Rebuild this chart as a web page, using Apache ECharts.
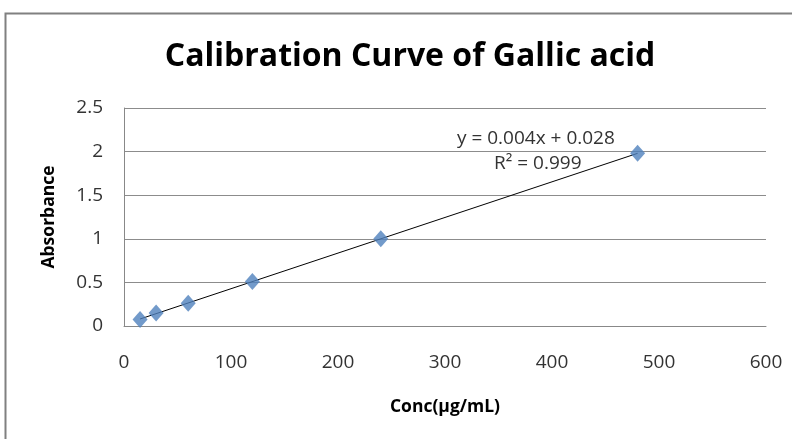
<!DOCTYPE html>
<html><head><meta charset="utf-8">
<script src="https://cdn.jsdelivr.net/npm/echarts@6/dist/echarts.min.js"></script>
<style>html,body{margin:0;padding:0;background:#fff}#c{width:792px;height:439px}</style>
</head><body><div id="c"></div>
<script>
const conc = [15, 30, 60, 120, 240, 480];
const absorbance = [0.075, 0.15, 0.26, 0.51, 1.0, 1.98];
const xTicks = [0, 100, 200, 300, 400, 500, 600];
const yTicks = [0, 0.5, 1, 1.5, 2, 2.5];
const equationText = 'y = 0.004x + 0.028';
const r2Text = 'R² = 0.999';

// least-squares trendline from data
const n = conc.length;
const mx = conc.reduce((a,b)=>a+b,0)/n, my = absorbance.reduce((a,b)=>a+b,0)/n;
let sxy=0, sxx=0;
for (let i=0;i<n;i++){ sxy+=(conc[i]-mx)*(absorbance[i]-my); sxx+=(conc[i]-mx)**2; }
const slope = sxy/sxx, icpt = my - slope*mx;
const xMinT = Math.min(...conc), xMaxT = Math.max(...conc);
const trend = [[xMinT, icpt+slope*xMinT],[xMaxT, icpt+slope*xMaxT]];

const font = "'Open Sans', sans-serif";
const chart = echarts.init(document.getElementById('c'), null, {renderer:'canvas'});
chart.setOption({
  animation:false,
  title:{text:'Calibration Curve of Gallic acid', left:405, textAlign:'center', top:36,
    textStyle:{fontFamily:font, fontSize:32, fontWeight:'bold', color:'#000'}},
  grid:{left:124, right:26, top:108, bottom:113},
  xAxis:{type:'value', min:0, max:600, interval:100,
    name:'Conc(µg/mL)', nameLocation:'middle', nameGap:72,
    nameTextStyle:{fontFamily:font, fontSize:17.5, fontWeight:'bold', color:'#000'},
    axisLine:{lineStyle:{color:'#888'}}, axisTick:{show:false},
    axisLabel:{fontFamily:font, fontSize:19, color:'#333', margin:27},
    splitLine:{show:false}},
  yAxis:{type:'value', min:0, max:2.5, interval:0.5,
    name:'Absorbance', nameLocation:'middle', nameGap:66, nameRotate:90,
    nameTextStyle:{fontFamily:font, fontSize:17.5, fontWeight:'bold', color:'#000'},
    axisLine:{show:true, lineStyle:{color:'#888'}}, axisTick:{show:false},
    axisLabel:{fontFamily:font, fontSize:19, color:'#333', margin:21},
    splitLine:{lineStyle:{color:'#8c8c8c', width:1}}},
  series:[
    {type:'line', data:trend, symbol:'none', lineStyle:{color:'#000', width:1}, z:2, silent:true},
    {type:'scatter', data:conc.map((x,i)=>[x,absorbance[i]]), symbol:'diamond', symbolSize:[15,17],
      itemStyle:{color:'#4F81BD'}, z:3}
  ],
  graphic:[
    {type:'rect', shape:{x:5.5, y:13.5, width:900, height:600}, style:{fill:'none', stroke:'#808080', lineWidth:2}, z:-1},
    {type:'text', left:457, top:129, style:{text:equationText, font:"19px 'Open Sans', sans-serif", fill:'#333'}},
    {type:'text', left:494, top:154, style:{text:r2Text, font:"19px 'Open Sans', sans-serif", fill:'#333'}}
  ]
});
</script></body></html>
